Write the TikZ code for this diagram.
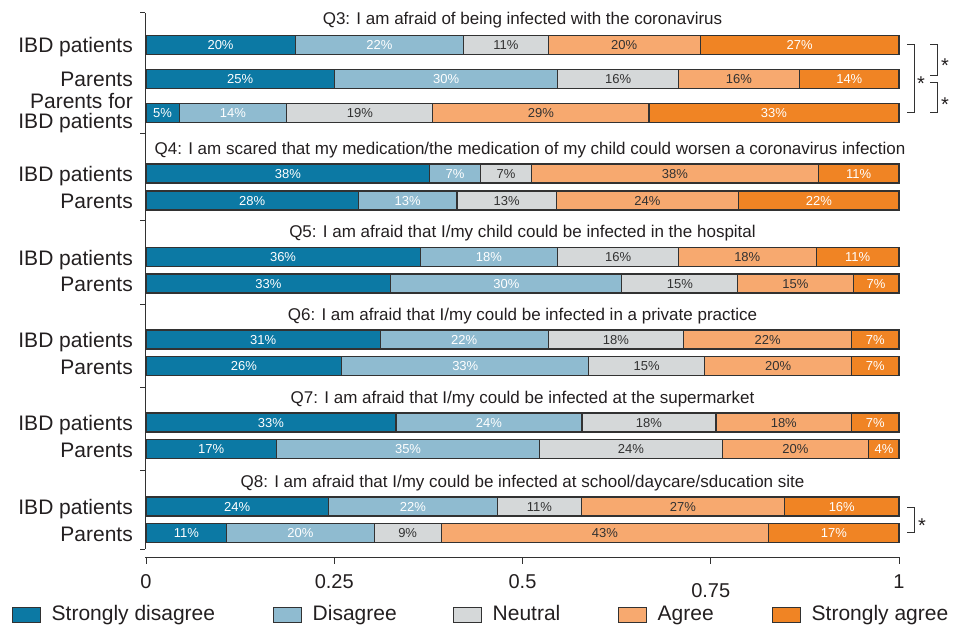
\documentclass[tikz,border=0pt]{standalone}
\usepackage{fontspec}
\setmainfont{Liberation Sans}
\usetikzlibrary{positioning}

\definecolor{sdis}{RGB}{12,121,164}
\definecolor{dis}{RGB}{143,187,208}
\definecolor{neu}{RGB}{213,216,217}
\definecolor{agr}{RGB}{247,169,111}
\definecolor{sagr}{RGB}{240,132,36}
\definecolor{ink}{RGB}{35,31,32}
\definecolor{edge}{RGB}{50,50,50}

\begin{document}
\begin{tikzpicture}[
        x = 1pt, y = -1pt,
        bar/.style = {draw=edge, line width = 1.1pt},
        pct/.style = {font=\fontsize{13}{13}\selectfont, inner sep=0pt, anchor=base},
        question/.style = {font=\fontsize{17}{18}\selectfont, text=ink, inner sep=0pt, anchor=base},
        group/.style = {font=\fontsize{21}{19.5}\selectfont, text=ink, inner sep=0pt, anchor=base east, align=right},
        axis/.style = {draw=edge, line width = 1pt},
        tick/.style = {font=\fontsize{20}{20}\selectfont, text=ink, inner sep=0pt, anchor=base},
        keybox/.style = {draw=edge, line width = 1pt, minimum width=28pt, minimum height=15pt, inner sep=0pt},
        keytext/.style = {font=\fontsize{21}{21}\selectfont, text=ink, inner sep=0pt, text height=15pt, text depth=4pt, anchor=west},
        star/.style = {font=\fontsize{20}{20}\selectfont, text=ink, inner sep=0pt, anchor=base},
        node distance = {11pt}
    ]
    \useasboundingbox (0,0) rectangle (962,626);

    % stacked bars, fractions of the whole bar
    \begin{scope}[shift={(146,0)}, x=753pt]
    \foreach \yc/\ba/\bb/\bc/\bd/\pa/\pb/\pc/\pd/\pe [count=\r] in {
        45/0.198/0.422/0.534/0.736/20/22/11/20/27,
        79/0.250/0.547/0.707/0.868/25/30/16/16/14,
        113/0.044/0.187/0.381/0.668/5/14/19/29/33,
        173.5/0.377/0.444/0.512/0.893/38/7/7/38/11,
        200.5/0.282/0.413/0.545/0.787/28/13/13/24/22,
        257/0.364/0.547/0.707/0.890/36/18/16/18/11,
        283.5/0.325/0.632/0.786/0.939/33/30/15/15/7,
        339.5/0.311/0.534/0.714/0.937/31/22/18/22/7,
        366/0.260/0.588/0.742/0.937/26/33/15/20/7,
        422.5/0.332/0.579/0.757/0.937/33/24/18/18/7,
        449/0.173/0.523/0.765/0.960/17/35/24/20/4,
        506.5/0.242/0.467/0.578/0.848/24/22/11/27/16,
        533/0.107/0.303/0.392/0.827/11/20/9/43/17}
    {
        \foreach \s/\e/\col/\val/\tc [count=\k] in {0/\ba/sdis/\pa/white, \ba/\bb/dis/\pb/white,
                \bb/\bc/neu/\pc/edge, \bc/\bd/agr/\pd/edge, \bd/1/sagr/\pe/white}
        {
            \draw[bar, fill=\col] (\s,\yc-9.5) rectangle (\e,\yc+9.5);
            \node[pct, text=\tc] (v\r-\k) at ({(\s+\e)/2},\yc+4.7) {\val\%};
        }
    }

    \node[question] (q3) at (0.5,25) {Q3: I am afraid of being infected with the coronavirus};
    \node[question] (q4) at (0.51,154) {Q4: I am scared that my medication/the medication of my child could worsen a coronavirus infection};
    \node[question] (q5) at (0.5,237) {Q5: I am afraid that I/my child could be infected in the hospital};
    \node[question] (q6) at (0.5,320) {Q6: I am afraid that I/my could be infected in a private practice};
    \node[question] (q7) at (0.5,403) {Q7: I am afraid that I/my could be infected at the supermarket};
    \node[question] (q8) at (0.5,487) {Q8: I am afraid that I/my could be infected at school/daycare/sducation site};
    \end{scope}

    % group labels
    \foreach \yc/\lab [count=\r] in {45/IBD patients, 79/Parents, 173.5/IBD patients, 200.5/Parents,
            257/IBD patients, 283.5/Parents, 339.5/IBD patients, 366/Parents,
            422.5/IBD patients, 449/Parents, 506.5/IBD patients, 533/Parents}
        \node[group] (g\r) at (133,\yc+8) {\lab};
    \node[group, anchor=east] (gpibd) at (133,113) {Parents for\\IBD patients};

    % axes
    \draw[axis] (145,13) -- (145,549);
    \foreach \t in {13,133,220,304,387,470,549}
        \draw[axis] (140,\t) -- (145,\t);
    \draw[axis] (145,557) -- (899,557);
    \foreach \f/\lab/\b [count=\k] in {0/0/588, 0.25/0.25/588, 0.5/0.5/588, 0.75/0.75/597, 1/1/588}
    {
        \draw[axis] (146+753*\f,557) -- (146+753*\f,564);
        \node[tick] (x\k) at (146+753*\f,\b) {\lab};
    }

    % significance
    \draw[axis] (907,45) -- (914,45) -- (914,113) -- (907,113);
    \draw[axis] (930,45) -- (937,45) -- (937,76) -- (930,76);
    \draw[axis] (930,83) -- (937,83) -- (937,113) -- (930,113);
    \node[star] (s1) at (921,91) {*};
    \node[star] (s2) at (945,73) {*};
    \node[star] (s3) at (945,111) {*};
    \draw[axis] (907,507) -- (914,507) -- (914,532) -- (907,532);
    \node[star] (s4) at (922,532) {*};

    % legend
    \foreach \bx/\col/\lab [count=\k] in {12/sdis/Strongly disagree, 273/dis/Disagree,
            453/neu/Neutral, 618/agr/Agree, 772/sagr/Strongly agree}
    {
        \node[keybox, fill=\col] (key\k) at (\bx+14,614.5) {};
        \node[keytext, right=of key\k] (keylab\k) {\lab};
    }
\end{tikzpicture}
\end{document}
